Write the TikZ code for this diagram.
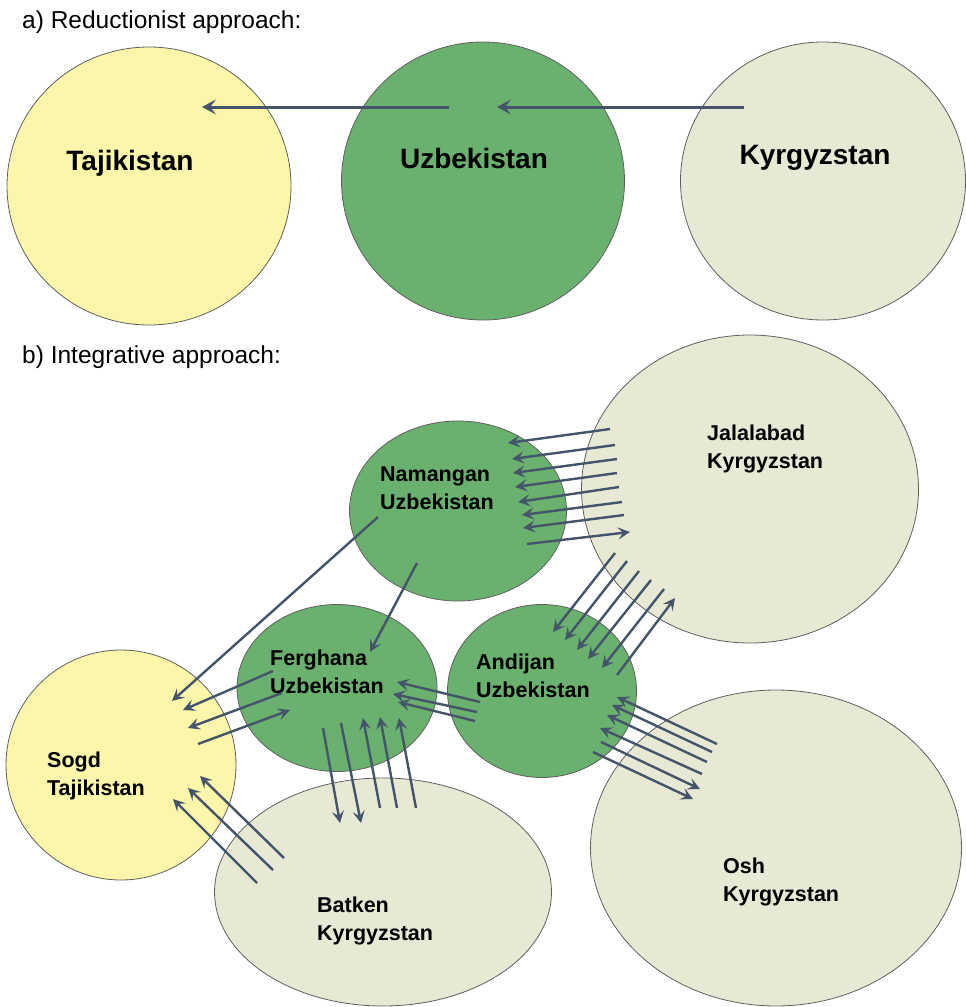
\documentclass[tikz,border=0pt]{standalone}
\usepackage{fontspec}
\setmainfont{Liberation Sans}
\usetikzlibrary{shapes.geometric,arrows.meta}
\definecolor{tajyellow}{RGB}{251,246,170}
\definecolor{uzbgreen}{RGB}{106,176,110}
\definecolor{kyrbeige}{RGB}{231,233,212}
\definecolor{regionedge}{RGB}{95,95,95}
\definecolor{flowblue}{RGB}{68,84,106}
\tikzset{
  region/.style={ellipse, draw=regionedge, line width=0.8pt, inner sep=0pt},
  tajreg/.style={region, fill=tajyellow},
  uzbreg/.style={region, fill=uzbgreen},
  kyrreg/.style={region, fill=kyrbeige},
  flow/.style={draw=flowblue, line width=2.4pt, -{Stealth[length=12pt,width=12pt,inset=5pt]}},
  bigflow/.style={draw=flowblue, line width=3pt, -{Stealth[length=14pt,width=15pt,inset=6pt]}},
  biglabel/.style={font=\fontsize{28}{32}\selectfont\bfseries, inner sep=0pt},
  smalllabel/.style={font=\fontsize{21.5}{28}\selectfont\bfseries, align=left, anchor=west, inner sep=0pt},
  heading/.style={font=\fontsize{24.5}{28}\selectfont, anchor=west, inner sep=0pt}
}
\begin{document}
\begin{tikzpicture}[x=1pt,y=-1pt]
  \useasboundingbox (0,0) rectangle (966,1007);
  \node[heading] (head-a) at (22,22) {a) Reductionist approach:};
  \node[tajreg, minimum width=284pt, minimum height=278pt] (taj) at (149,186) {};
  \node[uzbreg, minimum width=283pt, minimum height=278pt] (uzb) at (483,181) {};
  \node[kyrreg, minimum width=285pt, minimum height=278pt] (kyr) at (823,181) {};
  \node[biglabel] (taj-l) at (130,163) {Tajikistan};
  \node[biglabel] (uzb-l) at (474,158) {Uzbekistan};
  \node[biglabel] (kyr-l) at (815,158) {Kyrgyzstan};
  \coordinate (kyr-out) at (744,107);
  \coordinate (uzb-in) at (497,107);
  \coordinate (uzb-out) at (449,107);
  \coordinate (taj-in) at (202,107);
  \draw[bigflow] (kyr-out) -- (uzb-in);
  \draw[bigflow] (uzb-out) -- (taj-in);

  \node[heading] (head-b) at (22,357) {b) Integrative approach:};
  \node[kyrreg, minimum width=337pt, minimum height=308pt] (jala) at (750,489) {};
  \node[uzbreg, minimum width=217pt, minimum height=180pt] (nam) at (458,511) {};
  \node[uzbreg, minimum width=200pt, minimum height=167pt] (ferg) at (337,688) {};
  \node[kyrreg, minimum width=371pt, minimum height=316pt] (osh) at (776,848) {};
  \node[uzbreg, minimum width=189pt, minimum height=173pt] (andi) at (542,691) {};
  \node[tajreg, minimum width=230pt, minimum height=230pt] (sogd) at (121,765) {};
  \node[kyrreg, minimum width=337pt, minimum height=228pt] (batk) at (383,892) {};
  \node[smalllabel] (jala-l) at (707,449) {Jalalabad\\Kyrgyzstan};
  \node[smalllabel] (nam-l) at (380,488) {Namangan\\Uzbekistan};
  \node[smalllabel] (ferg-l) at (270,672) {Ferghana\\Uzbekistan};
  \node[smalllabel] (andi-l) at (476,676) {Andijan\\Uzbekistan};
  \node[smalllabel] (sogd-l) at (47,776) {Sogd\\Tajikistan};
  \node[smalllabel] (batk-l) at (317,921) {Batken\\Kyrgyzstan};
  \node[smalllabel] (osh-l) at (723,882) {Osh\\Kyrgyzstan};

  \foreach \sx/\sy/\ex/\ey [count=\k] in {610/429/508/443, 615/445/512/459,
      617/459/513/473, 617/473/515/487, 619/487/518/502, 622/502/522/515,
      624/515/523/528, 527/544/630/532} {
    \coordinate (jn-s\k) at (\sx,\sy);
    \coordinate (jn-e\k) at (\ex,\ey);
    \draw[flow] (jn-s\k) -- (jn-e\k);
  }
  \foreach \sx/\sy/\ex/\ey [count=\k] in {615/553/553/632, 627/561/565/640,
      639/571/577/650, 651/580/588/659, 664/589/602/668, 617/675/675/598} {
    \coordinate (ja-s\k) at (\sx,\sy);
    \coordinate (ja-e\k) at (\ex,\ey);
    \draw[flow] (ja-s\k) -- (ja-e\k);
  }
  \foreach \sx/\sy/\ex/\ey [count=\k] in {717/744/617/697, 712/752/612/705,
      707/762/607/715, 702/774/600/728, 601/742/700/789, 593/752/693/799} {
    \coordinate (oa-s\k) at (\sx,\sy);
    \coordinate (oa-e\k) at (\ex,\ey);
    \draw[flow] (oa-s\k) -- (oa-e\k);
  }
  \foreach \sx/\sy/\ex/\ey [count=\k] in {480/702/397/682, 477/712/393/694,
      475/721/398/702} {
    \coordinate (af-s\k) at (\sx,\sy);
    \coordinate (af-e\k) at (\ex,\ey);
    \draw[flow] (af-s\k) -- (af-e\k);
  }
  \coordinate (nf-s) at (417,563);
  \coordinate (nf-e) at (370,652);
  \draw[flow] (nf-s) -- (nf-e);
  \coordinate (ns-s) at (378,517);
  \coordinate (ns-e) at (172,701);
  \draw[flow] (ns-s) -- (ns-e);
  \foreach \sx/\sy/\ex/\ey [count=\k] in {273/671/183/710, 282/693/188/728,
      198/744/290/710} {
    \coordinate (fs-s\k) at (\sx,\sy);
    \coordinate (fs-e\k) at (\ex,\ey);
    \draw[flow] (fs-s\k) -- (fs-e\k);
  }
  \foreach \sx/\sy/\ex/\ey [count=\k] in {257/883/173/799, 273/870/188/788,
      284/858/200/776} {
    \coordinate (bs-s\k) at (\sx,\sy);
    \coordinate (bs-e\k) at (\ex,\ey);
    \draw[flow] (bs-s\k) -- (bs-e\k);
  }
  \foreach \sx/\sy/\ex/\ey [count=\k] in {323/728/340/823, 341/723/361/823,
      380/808/363/718, 397/808/380/717, 416/808/399/718} {
    \coordinate (fb-s\k) at (\sx,\sy);
    \coordinate (fb-e\k) at (\ex,\ey);
    \draw[flow] (fb-s\k) -- (fb-e\k);
  }
\end{tikzpicture}
\end{document}
